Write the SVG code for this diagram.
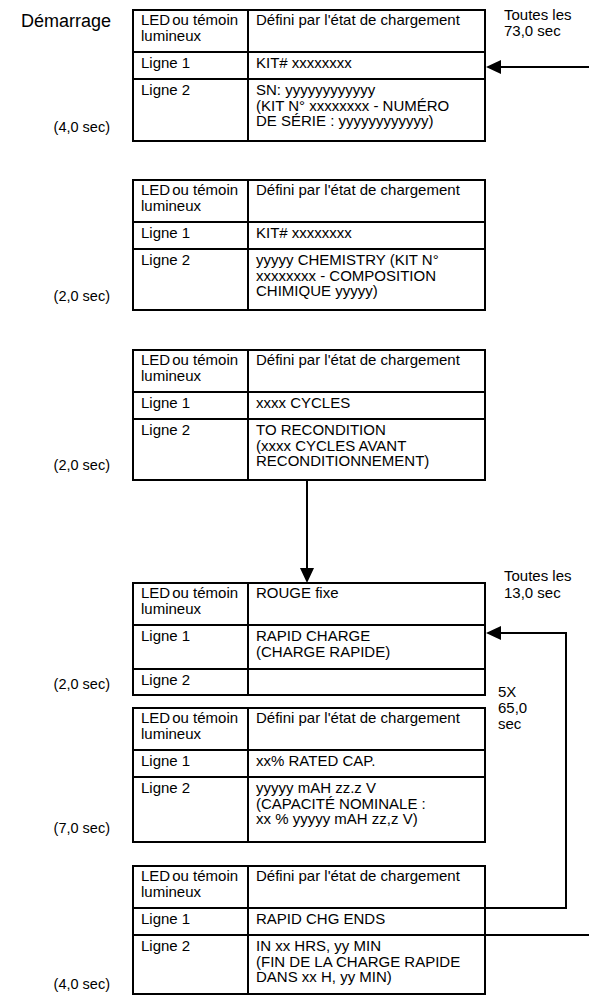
<svg xmlns="http://www.w3.org/2000/svg" width="589" height="995" viewBox="0 0 589 995">
<defs>
<style>
text{font-family:"Liberation Sans",Arial,sans-serif;font-size:15px;fill:#000}
.big{font-size:18px}
.t{text-anchor:end;font-size:14.5px}
.box{fill:none;stroke:#000;stroke-width:2}
.ln{stroke:#000;stroke-width:2;fill:none}
.head{fill:#000}
</style>
</defs>
<rect x="0" y="0" width="589" height="995" fill="#fff"/>
<text class="big" x="111" y="27" text-anchor="end">Démarrage</text>

<g id="table1">
<rect class="box" x="133" y="10" width="352" height="131"/>
<path class="ln" d="M248 10V141M133 52H485M133 79H485"/>
<text x="141" y="25">LED<tspan dx="2">ou témoin</tspan></text><text x="141" y="40.5">lumineux</text>
<text x="256" y="25">Défini par l'état de chargement</text>
<text x="141" y="68">Ligne 1</text><text x="256" y="68">KIT# xxxxxxxx</text>
<text x="141" y="95">Ligne 2</text>
<text x="256" y="95">SN: yyyyyyyyyyyy</text>
<text x="256" y="110.5">(KIT N° xxxxxxxx - NUMÉRO</text>
<text x="256" y="126">DE SÉRIE : yyyyyyyyyyyy)</text>
<text class="t" x="110" y="132">(4,0 sec)</text>
</g>

<g id="table2">
<rect class="box" x="133" y="180" width="352" height="130"/>
<path class="ln" d="M248 180V310M133 222H485M133 249H485"/>
<text x="141" y="195">LED<tspan dx="2">ou témoin</tspan></text><text x="141" y="210.5">lumineux</text>
<text x="256" y="195">Défini par l'état de chargement</text>
<text x="141" y="238">Ligne 1</text><text x="256" y="238">KIT# xxxxxxxx</text>
<text x="141" y="265">Ligne 2</text>
<text x="256" y="265">yyyyy CHEMISTRY (KIT N°</text>
<text x="256" y="280.5">xxxxxxxx - COMPOSITION</text>
<text x="256" y="296">CHIMIQUE yyyyy)</text>
<text class="t" x="110" y="301">(2,0 sec)</text>
</g>

<g id="table3">
<rect class="box" x="133" y="350" width="352" height="130"/>
<path class="ln" d="M248 350V480M133 392H485M133 419H485"/>
<text x="141" y="365">LED<tspan dx="2">ou témoin</tspan></text><text x="141" y="380.5">lumineux</text>
<text x="256" y="365">Défini par l'état de chargement</text>
<text x="141" y="408">Ligne 1</text><text x="256" y="408">xxxx CYCLES</text>
<text x="141" y="435">Ligne 2</text>
<text x="256" y="435">TO RECONDITION</text>
<text x="256" y="450.5">(xxxx CYCLES AVANT</text>
<text x="256" y="466">RECONDITIONNEMENT)</text>
<text class="t" x="110" y="470">(2,0 sec)</text>
</g>

<g id="table4">
<rect class="box" x="133" y="583" width="352" height="112"/>
<path class="ln" d="M248 583V695M133 625H485M133 669H485"/>
<text x="141" y="598">LED<tspan dx="2">ou témoin</tspan></text><text x="141" y="613.5">lumineux</text>
<text x="256" y="598">ROUGE fixe</text>
<text x="141" y="641">Ligne 1</text>
<text x="256" y="641">RAPID CHARGE</text>
<text x="256" y="656.5">(CHARGE RAPIDE)</text>
<text x="141" y="685">Ligne 2</text>
<text class="t" x="110" y="689">(2,0 sec)</text>
</g>

<g id="table5">
<rect class="box" x="133" y="708" width="352" height="134"/>
<path class="ln" d="M248 708V842M133 750H485M133 777H485"/>
<text x="141" y="723">LED<tspan dx="2">ou témoin</tspan></text><text x="141" y="738.5">lumineux</text>
<text x="256" y="723">Défini par l'état de chargement</text>
<text x="141" y="766">Ligne 1</text><text x="256" y="766">xx% RATED CAP.</text>
<text x="141" y="793">Ligne 2</text>
<text x="256" y="793">yyyyy mAH zz.z V</text>
<text x="256" y="808.5">(CAPACITÉ NOMINALE :</text>
<text x="256" y="824">xx % yyyyy mAH zz,z V)</text>
<text class="t" x="110" y="833">(7,0 sec)</text>
</g>

<g id="table6">
<rect class="box" x="133" y="866" width="352" height="128"/>
<path class="ln" d="M248 866V994M133 908H485M133 935H485"/>
<text x="141" y="881">LED<tspan dx="2">ou témoin</tspan></text><text x="141" y="896.5">lumineux</text>
<text x="256" y="881">Défini par l'état de chargement</text>
<text x="141" y="924">Ligne 1</text><text x="256" y="924">RAPID CHG ENDS</text>
<text x="141" y="951">Ligne 2</text>
<text x="256" y="951">IN xx HRS, yy MIN</text>
<text x="256" y="966.5">(FIN DE LA CHARGE RAPIDE</text>
<text x="256" y="982">DANS xx H, yy MIN)</text>
<text class="t" x="110" y="989">(4,0 sec)</text>
</g>

<g id="labels">
<text x="504" y="20">Toutes les</text>
<text x="504" y="36">73,0 sec</text>
<text x="504" y="581">Toutes les</text>
<text x="504" y="598">13,0 sec</text>
<text x="498" y="697">5X</text>
<text x="498" y="713">65,0</text>
<text x="498" y="729">sec</text>
</g>

<g id="connectors">
<path class="ln" d="M589 67H500"/>
<polygon class="head" points="486,67 501,60 501,74"/>
<path class="ln" d="M307 480V570"/>
<polygon class="head" points="307,583 300,568 314,568"/>
<path class="ln" d="M485 908H566V633H500" stroke-linejoin="miter"/>
<polygon class="head" points="486,633 501,626 501,640"/>
<path class="ln" d="M485 935H589"/>
</g>
</svg>
